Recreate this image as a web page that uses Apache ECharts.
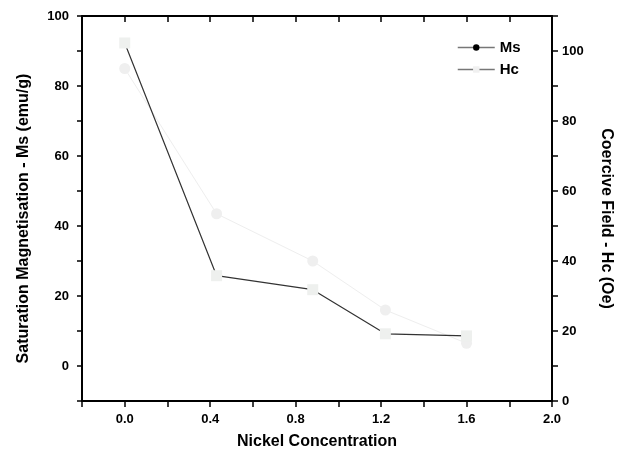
<!DOCTYPE html>
<html>
<head>
<meta charset="utf-8">
<script src="https://cdn.jsdelivr.net/npm/echarts@6/dist/echarts.min.js"></script>
<style>
  html, body { margin: 0; padding: 0; background: #fff; }
  #chart { width: 627px; height: 455px; }
</style>
</head>
<body>
<div id="chart"></div>
<script>
// nickel concentration (x) and the two measured quantities
const nickel = [0, 0.43, 0.88, 1.22, 1.6];
const msValues = [85, 43.5, 30, 16, 6.5];        // Saturation magnetisation, emu/g (left axis)
const hcValues = [102.3, 35.8, 31.8, 19.2, 18.6]; // Coercive field, Oe (right axis)

const FONT = '"Liberation Sans", Arial, Helvetica, sans-serif';

const msData = nickel.map((x, i) => [x, msValues[i]]);
const hcData = nickel.map((x, i) => [x, hcValues[i]]);

// show a label only every second tick
const everyOther = (step) => (v) => {
  const k = Math.round(v / step);
  return k % 2 === 0 ? (step < 1 ? v.toFixed(1) : String(Math.round(v))) : '';
};

const chart = echarts.init(document.getElementById('chart'));

const axisLine = { onZero: false, lineStyle: { color: '#000', width: 2 } };
const labelStyle = { color: '#000', fontFamily: FONT, fontWeight: 'bold', fontSize: 13 };
const titleStyle = { color: '#000', fontFamily: FONT, fontWeight: 'bold', fontSize: 16 };

chart.setOption({
  animation: false,
  backgroundColor: '#fff',
  grid: { left: 82, right: 75, top: 16, bottom: 54 },
  legend: {
    orient: 'vertical',
    left: 452,
    top: 35,
    itemWidth: 37,
    itemHeight: 8,
    itemGap: 7,
    textStyle: { color: '#000', fontFamily: FONT, fontWeight: 'bold', fontSize: 15 },
    data: [
      { name: 'Ms', itemStyle: { color: '#000' }, lineStyle: { color: '#777', width: 1.5 } },
      { name: 'Hc', itemStyle: { color: '#f0f0f0' }, lineStyle: { color: '#777', width: 1.5 } }
    ]
  },
  xAxis: [
    {
      type: 'value',
      position: 'bottom',
      min: -0.2,
      max: 2.0,
      interval: 0.2,
      name: 'Nickel Concentration',
      nameLocation: 'middle',
      nameGap: 33,
      nameTextStyle: titleStyle,
      axisLine: axisLine,
      axisTick: { length: 6, lineStyle: { color: '#000', width: 1.5 } },
      axisLabel: Object.assign({ margin: 12, formatter: everyOther(0.2) }, labelStyle),
      splitLine: { show: false }
    },
    {
      type: 'value',
      position: 'top',
      min: -0.2,
      max: 2.0,
      interval: 0.2,
      axisLine: axisLine,
      axisTick: { inside: true, length: 6, lineStyle: { color: '#000', width: 1.5 } },
      axisLabel: { show: false },
      splitLine: { show: false }
    }
  ],
  yAxis: [
    {
      type: 'value',
      position: 'left',
      min: -10,
      max: 100,
      interval: 10,
      name: 'Saturation Magnetisation - Ms (emu/g)',
      nameLocation: 'middle',
      nameRotate: 90,
      nameGap: 50,
      nameTextStyle: Object.assign({ padding: [0, 20, 0, 0] }, titleStyle),
      axisLine: axisLine,
      axisTick: { length: 5, lineStyle: { color: '#000', width: 1.5 } },
      axisLabel: Object.assign({ margin: 13, formatter: everyOther(10) }, labelStyle),
      splitLine: { show: false }
    },
    {
      type: 'value',
      position: 'right',
      min: 0,
      max: 110,
      interval: 10,
      name: 'Coercive Field - Hc (Oe)',
      nameLocation: 'middle',
      nameRotate: -90,
      nameGap: 46,
      nameTextStyle: Object.assign({ padding: [0, 0, 0, 20] }, titleStyle),
      axisLine: axisLine,
      axisTick: { length: 6, lineStyle: { color: '#000', width: 1.5 } },
      axisLabel: Object.assign({ margin: 10, formatter: everyOther(10) }, labelStyle),
      splitLine: { show: false }
    }
  ],
  series: [
    {
      name: 'Ms',
      type: 'line',
      xAxisIndex: 0,
      yAxisIndex: 0,
      data: msData,
      symbol: 'circle',
      symbolSize: 11,
      itemStyle: { color: '#efefef' },
      lineStyle: { color: '#eeeeee', width: 1 },
      z: 2
    },
    {
      name: 'Hc',
      type: 'line',
      xAxisIndex: 0,
      yAxisIndex: 1,
      data: hcData,
      symbol: 'rect',
      symbolSize: 11,
      itemStyle: { color: '#eef0ee' },
      lineStyle: { color: '#333', width: 1.2 },
      z: 3
    }
  ]
});
</script>
</body>
</html>
